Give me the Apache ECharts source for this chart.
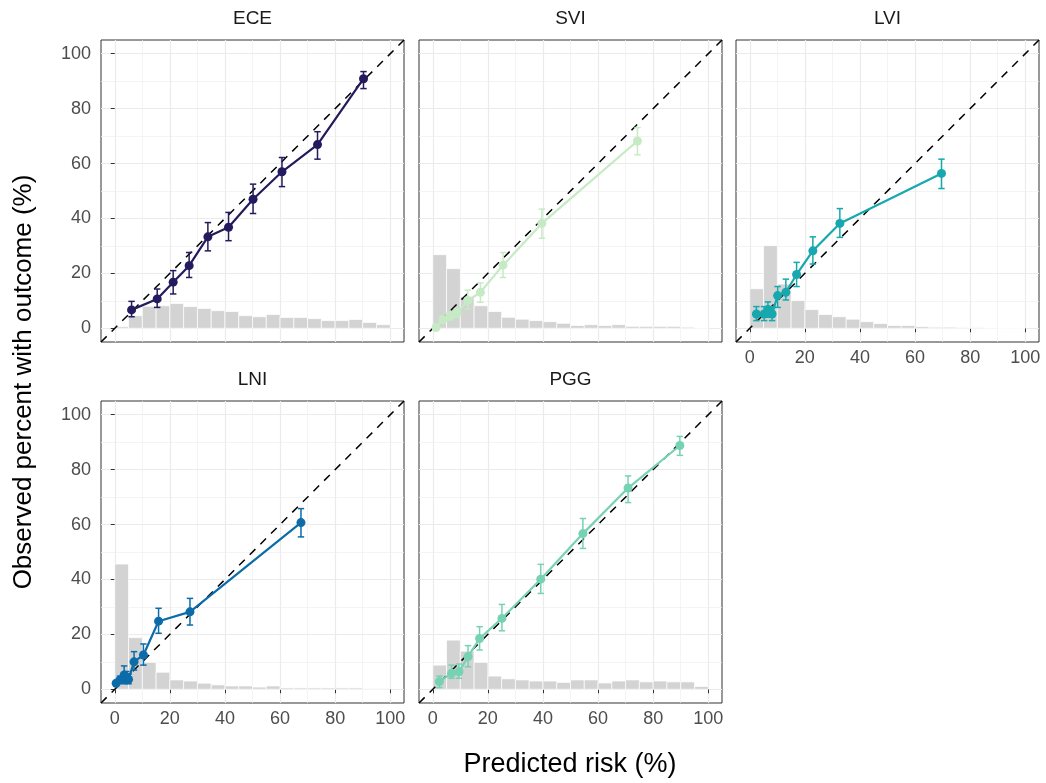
<!DOCTYPE html>
<html>
<head>
<meta charset="utf-8">
<script src="https://cdn.jsdelivr.net/npm/echarts@6/dist/echarts.min.js"></script>
<style>
html,body{margin:0;padding:0;background:#fff;}
#chart{width:1046px;height:783px;}
</style>
</head>
<body>
<div id="chart"></div>
<script>
// ---------- data ----------
const panelNames = ['ECE', 'SVI', 'LVI', 'LNI', 'PGG'];
const tickValues = [0, 20, 40, 60, 80, 100];
const binStarts = [0, 5, 10, 15, 20, 25, 30, 35, 40, 45, 50, 55, 60, 65, 70, 75, 80, 85, 90, 95];
const binWidth = 5;
const refLine = [-5, 105];

const eceX  = [6.1, 15.4, 21.2, 27.0, 33.8, 41.3, 50.2, 60.7, 73.6, 90.3];
const eceY  = [6.7, 10.7, 16.8, 22.8, 33.3, 36.8, 47.0, 57.0, 66.9, 90.9];
const eceLo = [4.2, 7.6, 12.5, 18.5, 28.2, 31.9, 41.8, 51.6, 61.6, 87.3];
const eceHi = [9.8, 14.3, 21.0, 27.6, 38.5, 42.2, 52.5, 62.2, 71.6, 93.5];
const eceHist = [0.6, 4.6, 8.0, 8.2, 9.0, 7.9, 7.2, 6.4, 6.1, 4.6, 4.2, 5.0, 3.9, 3.9, 3.5, 2.8, 2.8, 3.2, 2.1, 1.3];

const sviX  = [1.2, 3.6, 6.1, 8.8, 12.7, 17.3, 25.5, 39.6, 74.3];
const sviY  = [0.3, 3.1, 4.3, 5.5, 10.1, 13.1, 23.0, 38.2, 68.2];
const sviLo = [0.0, 2.0, 2.9, 3.9, 7.0, 9.5, 18.5, 32.8, 63.2];
const sviHi = [0.8, 4.4, 5.9, 7.2, 13.9, 16.5, 27.6, 43.4, 73.1];
const sviHist = [26.8, 21.7, 11.5, 8.2, 6.1, 4.0, 3.3, 2.8, 2.4, 1.8, 1.0, 1.3, 1.0, 1.3, 0.7, 0.7, 0.7, 0.7, 0.4, 0.1];

const lviX  = [2.4, 5.2, 6.6, 8.1, 10.1, 13.1, 17.0, 22.9, 32.7, 69.6];
const lviY  = [5.2, 5.2, 6.8, 5.2, 11.9, 13.1, 19.6, 28.2, 38.2, 56.4];
const lviLo = [2.8, 2.8, 4.0, 2.8, 7.6, 10.3, 15.2, 23.4, 33.1, 50.9];
const lviHi = [7.9, 7.9, 9.6, 7.9, 15.2, 17.9, 24.0, 33.3, 43.6, 61.6];
const lviHist = [14.4, 30.1, 16.1, 10.1, 6.8, 5.0, 4.2, 3.3, 2.4, 1.7, 1.0, 1.0, 0.6, 0.4, 0.4, 0.2, 0.2, 0.1, 0, 0];

const lniX  = [0.5, 1.9, 3.4, 4.2, 5.0, 7.0, 10.4, 15.9, 27.3, 67.6];
const lniY  = [2.2, 3.4, 5.2, 4.6, 3.6, 10.0, 12.5, 24.8, 28.2, 60.7];
const lniLo = [1.5, 2.2, 2.0, 2.5, 2.0, 7.0, 8.8, 20.4, 23.4, 55.5];
const lniHi = [2.9, 4.8, 8.5, 6.5, 5.5, 13.7, 16.5, 29.5, 33.1, 65.8];
const lniHist = [45.6, 18.8, 9.8, 6.2, 3.4, 3.0, 2.2, 1.6, 1.2, 1.2, 0.8, 1.2, 0.5, 0.5, 0.5, 0.5, 0.5, 0.5, 0.2, 0.2];

const pggX  = [2.4, 6.8, 9.5, 12.8, 17.0, 25.1, 39.2, 54.5, 70.9, 89.7];
const pggY  = [2.8, 5.8, 6.4, 11.9, 18.5, 25.8, 40.1, 56.7, 73.3, 88.8];
const pggLo = [0.6, 4.0, 4.0, 8.2, 14.3, 21.3, 34.9, 51.3, 68.0, 85.2];
const pggHi = [4.8, 8.8, 9.2, 15.9, 22.8, 30.9, 45.5, 62.2, 77.7, 92.1];
const pggHist = [8.8, 17.9, 13.9, 9.8, 4.8, 3.8, 3.4, 3.0, 3.0, 2.5, 3.4, 3.4, 2.3, 3.0, 3.4, 2.7, 3.0, 2.7, 2.7, 1.0];

// ---------- layout / style ----------
const FONT = '"Liberation Sans", Arial, Helvetica, sans-serif';
const panels = [
  {name: 'ECE', x: eceX, y: eceY, lo: eceLo, hi: eceHi, hist: eceHist, color: '#241B5E', left: 101, top: 40, xLab: false, yLab: true},
  {name: 'SVI', x: sviX, y: sviY, lo: sviLo, hi: sviHi, hist: sviHist, color: '#C6EBC4', left: 419, top: 40, xLab: false, yLab: false},
  {name: 'LVI', x: lviX, y: lviY, lo: lviLo, hi: lviHi, hist: lviHist, color: '#16A8AE', left: 736, top: 40, xLab: true, yLab: false},
  {name: 'LNI', x: lniX, y: lniY, lo: lniLo, hi: lniHi, hist: lniHist, color: '#0B6CA9', left: 101, top: 401, xLab: true, yLab: true},
  {name: 'PGG', x: pggX, y: pggY, lo: pggLo, hi: pggHi, hist: pggHist, color: '#77D2B3', left: 419, top: 401, xLab: true, yLab: false}
];
const PW = 303, PH = 302;

const grids = [], xAxes = [], yAxes = [], series = [], graphics = [];

function axisCommon(showLab, isX) {
  return {
    type: 'value', min: -5, max: 105, splitNumber: 5,
    axisLine: {show: false},
    axisTick: {show: showLab, customValues: tickValues, length: 4, lineStyle: {color: '#333333', width: 1}},
    axisLabel: {show: showLab, customValues: tickValues, color: '#4D4D4D', fontSize: 18, fontFamily: FONT, margin: isX ? 7 : 10},
    splitLine: {show: true, lineStyle: {color: '#EBEBEB', width: 1.2}},
    minorTick: {show: false, splitNumber: 2},
    minorSplitLine: {show: true, lineStyle: {color: '#EFEFEF', width: 0.7}}
  };
}

panels.forEach((p, gi) => {
  grids.push({left: p.left, top: p.top, width: PW, height: PH, show: true, borderColor: '#333333', borderWidth: 1, backgroundColor: '#ffffff', containLabel: false});
  xAxes.push(Object.assign({gridIndex: gi}, axisCommon(p.xLab, true)));
  yAxes.push(Object.assign({gridIndex: gi}, axisCommon(p.yLab, false)));

  // histogram
  series.push({
    type: 'custom', xAxisIndex: gi, yAxisIndex: gi, z: 1, silent: true,
    data: binStarts.map((b, i) => [b, p.hist[i]]),
    renderItem: function (params, api) {
      const a = api.coord([api.value(0), 0]);
      const b = api.coord([api.value(0) + binWidth, api.value(1)]);
      return {type: 'rect', shape: {x: a[0], y: b[1], width: b[0] - a[0], height: a[1] - b[1]},
        style: {fill: '#D3D3D3', stroke: '#ffffff', lineWidth: 0.7}};
    }
  });
  // diagonal reference
  series.push({
    type: 'line', xAxisIndex: gi, yAxisIndex: gi, z: 2, silent: true, symbol: 'none',
    data: [[refLine[0], refLine[0]], [refLine[1], refLine[1]]],
    lineStyle: {color: '#000000', width: 1.5, type: [8, 7]}
  });
  // error bars
  series.push({
    type: 'custom', xAxisIndex: gi, yAxisIndex: gi, z: 3, silent: true,
    data: p.x.map((x, i) => [x, p.lo[i], p.hi[i]]),
    renderItem: function (params, api) {
      const lo = api.coord([api.value(0), api.value(1)]);
      const hi = api.coord([api.value(0), api.value(2)]);
      const st = {stroke: p.color, lineWidth: 1.5};
      const c = 3.2;
      return {type: 'group', children: [
        {type: 'line', shape: {x1: lo[0], y1: lo[1], x2: hi[0], y2: hi[1]}, style: st},
        {type: 'line', shape: {x1: lo[0] - c, y1: lo[1], x2: lo[0] + c, y2: lo[1]}, style: st},
        {type: 'line', shape: {x1: hi[0] - c, y1: hi[1], x2: hi[0] + c, y2: hi[1]}, style: st}
      ]};
    }
  });
  // calibration line + points
  series.push({
    type: 'line', xAxisIndex: gi, yAxisIndex: gi, z: 4, silent: true,
    data: p.x.map((x, i) => [x, p.y[i]]),
    symbol: 'circle', symbolSize: 9,
    lineStyle: {color: p.color, width: 2.2},
    itemStyle: {color: p.color, borderWidth: 0}
  });

  graphics.push({type: 'text', x: p.left + PW / 2, y: p.top - 21,
    style: {text: p.name, fill: '#1A1A1A', font: '19px ' + FONT, textAlign: 'center', textVerticalAlign: 'middle', align: 'center', verticalAlign: 'middle'}});
});

graphics.push({type: 'text', x: 570, y: 765,
  style: {text: 'Predicted risk (%)', fill: '#000000', font: '27px ' + FONT, textAlign: 'center', textVerticalAlign: 'middle', align: 'center', verticalAlign: 'middle'}});
graphics.push({type: 'text', x: 24, y: 382, rotation: Math.PI / 2,
  style: {text: 'Observed percent with outcome (%)', fill: '#000000', font: '26px ' + FONT, textAlign: 'center', textVerticalAlign: 'middle', align: 'center', verticalAlign: 'middle'}});

const chart = echarts.init(document.getElementById('chart'), null, {renderer: 'canvas'});
chart.setOption({
  animation: false,
  backgroundColor: '#ffffff',
  grid: grids, xAxis: xAxes, yAxis: yAxes, series: series, graphic: graphics
});
</script>
</body>
</html>
